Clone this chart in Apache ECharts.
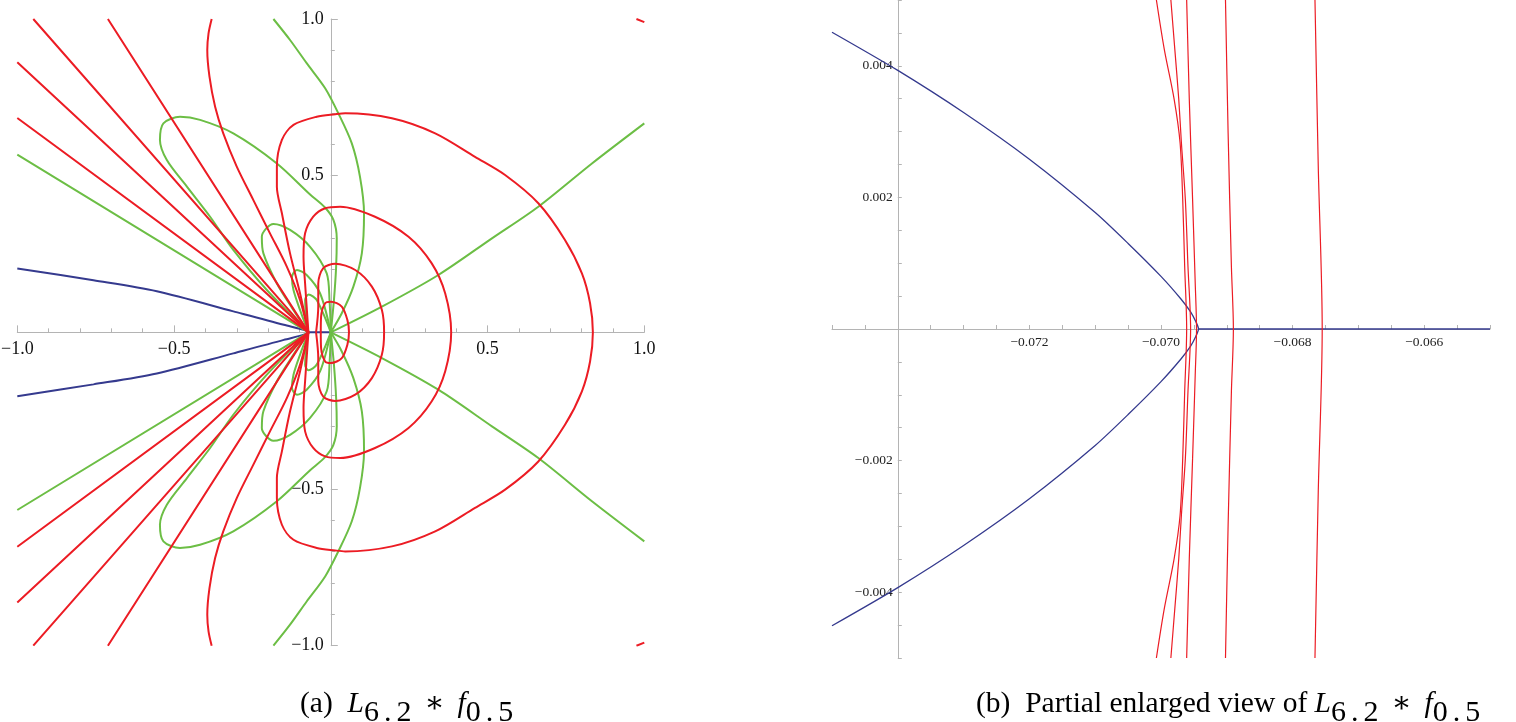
<!DOCTYPE html>
<html>
<head>
<meta charset="utf-8">
<script src="https://cdn.jsdelivr.net/npm/echarts@6/dist/echarts.min.js"></script>
<style>
html, body { margin: 0; padding: 0; background: #fff; }
#chart { width: 1516px; height: 722px; }
</style>
</head>
<body>
<div id="chart"></div>
<script>
// ---- (a) full view ----
const blueLeft = [[-1.0, 0.204], [-0.757, 0.166], [-0.555, 0.131], [-0.311, 0.067], [-0.15, 0.024], [-0.0714, 0],
  [-0.15, -0.024], [-0.311, -0.067], [-0.555, -0.131], [-0.757, -0.166], [-1.0, -0.204]];
const blueAxis = [[-0.0714, 0], [0, 0]];

const redRay1 = [[-1.0, 0.684], [-0.0714, 0], [-1.0, -0.684]];
const redRay2 = [[-1.0, 0.862], [-0.0714, 0], [-1.0, -0.862]];
const redRay3 = [[-0.949, 1.0], [-0.0714, 0], [-0.949, -1.0]];
const redRay4 = [[-0.711, 1.0], [-0.0714, 0], [-0.711, -1.0]];
const redBendUp = [[-0.380, 1.0], [-0.390, 0.954], [-0.394, 0.901], [-0.387, 0.816], [-0.369, 0.720], [-0.343, 0.635],
  [-0.300, 0.529], [-0.247, 0.422], [-0.194, 0.316], [-0.140, 0.209], [-0.098, 0.103], [-0.0714, 0]];
const redBendDown = [[-0.380, -1.0], [-0.390, -0.954], [-0.394, -0.901], [-0.387, -0.816], [-0.369, -0.720], [-0.343, -0.635],
  [-0.300, -0.529], [-0.247, -0.422], [-0.194, -0.316], [-0.140, -0.209], [-0.098, -0.103], [-0.0714, 0]];

const redLoop1 = [[-0.0714, 0], [-0.098, 0.124], [-0.130, 0.252], [-0.156, 0.380], [-0.172, 0.465], [-0.172, 0.529],
  [-0.156, 0.614], [-0.119, 0.662], [-0.045, 0.688], [0.014, 0.696], [0.046, 0.699], [0.195, 0.683], [0.333, 0.635],
  [0.460, 0.560], [0.556, 0.502], [0.662, 0.412], [0.747, 0.295], [0.801, 0.188], [0.827, 0.093], [0.836, 0],
  [0.827, -0.093], [0.801, -0.188], [0.747, -0.295], [0.662, -0.412], [0.556, -0.502], [0.460, -0.560], [0.333, -0.635],
  [0.195, -0.683], [0.046, -0.699], [0.014, -0.696], [-0.045, -0.688], [-0.119, -0.662], [-0.156, -0.614],
  [-0.172, -0.529], [-0.172, -0.465], [-0.156, -0.380], [-0.130, -0.252], [-0.098, -0.124], [-0.0714, 0]];
const redLoop2 = [[-0.0714, 0], [-0.082, 0.156], [-0.087, 0.241], [-0.082, 0.316], [-0.056, 0.369], [-0.018, 0.396],
  [0.030, 0.401], [0.141, 0.369], [0.248, 0.305], [0.322, 0.220], [0.365, 0.124], [0.384, 0],
  [0.365, -0.124], [0.322, -0.220], [0.248, -0.305], [0.141, -0.369], [0.030, -0.401], [-0.018, -0.396],
  [-0.056, -0.369], [-0.082, -0.316], [-0.087, -0.241], [-0.082, -0.156], [-0.0714, 0]];
const redLoop3 = [[-0.047, 0], [-0.040, 0.082], [-0.040, 0.156], [-0.024, 0.205], [0.014, 0.219], [0.078, 0.199],
  [0.131, 0.146], [0.163, 0.071], [0.170, 0], [0.163, -0.071], [0.131, -0.146], [0.078, -0.199], [0.014, -0.219],
  [-0.024, -0.205], [-0.040, -0.156], [-0.040, -0.082], [-0.047, 0]];
const redLoop4 = [[-0.032, 0], [-0.031, 0.050], [-0.018, 0.093], [0, 0.098], [0.035, 0.082], [0.053, 0.039], [0.058, 0],
  [0.053, -0.039], [0.035, -0.082], [0, -0.098], [-0.018, -0.093], [-0.031, -0.050], [-0.032, 0]];
const redCornerTop = [[0.975, 1.0], [1.0, 0.99]];
const redCornerBottom = [[0.975, -1.0], [1.0, -0.99]];

const greenRightUp = [[0, 0], [0.163, 0.082], [0.343, 0.183], [0.514, 0.300], [0.662, 0.401], [0.833, 0.539], [1.0, 0.667]];
const greenRightDown = [[0, 0], [0.163, -0.082], [0.343, -0.183], [0.514, -0.300], [0.662, -0.401], [0.833, -0.539], [1.0, -0.667]];
const greenLeftRay = [[-1.0, 0.567], [-0.0714, 0], [-1.0, -0.567]];
const greenTallUp = [[0, 0], [0.035, 0.061], [0.072, 0.146], [0.099, 0.252], [0.106, 0.380], [0.093, 0.497], [0.067, 0.603],
  [0.024, 0.699], [-0.018, 0.779], [-0.077, 0.859], [-0.130, 0.933], [-0.183, 1.0]];
const greenTallDown = [[0, 0], [0.035, -0.061], [0.072, -0.146], [0.099, -0.252], [0.106, -0.380], [0.093, -0.497], [0.067, -0.603],
  [0.024, -0.699], [-0.018, -0.779], [-0.077, -0.859], [-0.130, -0.933], [-0.183, -1.0]];
const greenLoopCUp = [[0, 0], [0.010, 0.103], [0.017, 0.209], [0.019, 0.300], [0.008, 0.360], [-0.020, 0.400], [-0.066, 0.440],
  [-0.172, 0.539], [-0.311, 0.635], [-0.417, 0.678], [-0.481, 0.688], [-0.534, 0.667], [-0.545, 0.614], [-0.523, 0.550],
  [-0.459, 0.465], [-0.385, 0.369], [-0.311, 0.263], [-0.204, 0.135], [-0.0714, 0]];
const greenLoopCDown = [[0, 0], [0.010, -0.103], [0.017, -0.209], [0.019, -0.300], [0.008, -0.360], [-0.020, -0.400], [-0.066, -0.440],
  [-0.172, -0.539], [-0.311, -0.635], [-0.417, -0.678], [-0.481, -0.688], [-0.534, -0.667], [-0.545, -0.614], [-0.523, -0.550],
  [-0.459, -0.465], [-0.385, -0.369], [-0.311, -0.263], [-0.204, -0.135], [-0.0714, 0]];
const greenLoopDUp = [[0, 0], [-0.004, 0.100], [-0.013, 0.188], [-0.066, 0.273], [-0.130, 0.327], [-0.183, 0.346],
  [-0.220, 0.305], [-0.215, 0.252], [-0.172, 0.156], [-0.119, 0.071], [-0.0714, 0]];
const greenLoopDDown = [[0, 0], [-0.004, -0.100], [-0.013, -0.188], [-0.066, -0.273], [-0.130, -0.327], [-0.183, -0.346],
  [-0.220, -0.305], [-0.215, -0.252], [-0.172, -0.156], [-0.119, -0.071], [-0.0714, 0]];
const greenLoopEUp = [[0, 0], [-0.034, 0.124], [-0.077, 0.183], [-0.108, 0.199], [-0.124, 0.177], [-0.119, 0.135], [-0.098, 0.071], [-0.0714, 0]];
const greenLoopEDown = [[0, 0], [-0.034, -0.124], [-0.077, -0.183], [-0.108, -0.199], [-0.124, -0.177], [-0.119, -0.135], [-0.098, -0.071], [-0.0714, 0]];
const greenLoopFUp = [[0, 0], [-0.045, 0.103], [-0.071, 0.121], [-0.082, 0.103], [-0.079, 0.055], [-0.0714, 0]];
const greenLoopFDown = [[0, 0], [-0.045, -0.103], [-0.071, -0.121], [-0.082, -0.103], [-0.079, -0.055], [-0.0714, 0]];

// ---- (b) enlarged view near the tip ----
const blueZoom = [[-0.075, 0.00451], [-0.074, 0.00393], [-0.073, 0.00329], [-0.072, 0.00258], [-0.071, 0.00177],
  [-0.0705, 0.0013], [-0.070, 0.0008], [-0.0697, 0.00046], [-0.06955, 0.00026], [-0.06947, 0.00011], [-0.06943, 0],
  [-0.06947, -0.00011], [-0.06955, -0.00026], [-0.0697, -0.00046], [-0.070, -0.0008], [-0.0705, -0.0013],
  [-0.071, -0.00177], [-0.072, -0.00258], [-0.073, -0.00329], [-0.074, -0.00393], [-0.075, -0.00451]];
const blueZoomAxis = [[-0.06943, 0], [-0.065, 0]];
const redZoomA = [[-0.07007, 0.005], [-0.06995, 0.00425], [-0.0698, 0.00349], [-0.06971, 0.00283], [-0.06967, 0.00197],
  [-0.06964, 0.00095], [-0.06961, 0], [-0.06964, -0.00095], [-0.06967, -0.00197], [-0.06971, -0.00283],
  [-0.0698, -0.00349], [-0.06995, -0.00425], [-0.07007, -0.005]];
const redZoomB = [[-0.06985, 0.005], [-0.06979, 0.00425], [-0.06973, 0.00349], [-0.06969, 0.00283], [-0.06963, 0.00197],
  [-0.06959, 0.00095], [-0.06955, 0], [-0.06959, -0.00095], [-0.06963, -0.00197], [-0.06969, -0.00283],
  [-0.06973, -0.00349], [-0.06979, -0.00425], [-0.06985, -0.005]];
const redZoomC = [[-0.06961, 0.005], [-0.06957, 0.00349], [-0.06952, 0.00197], [-0.06948, 0.0007], [-0.06946, 0],
  [-0.06948, -0.0007], [-0.06952, -0.00197], [-0.06957, -0.00349], [-0.06961, -0.005]];
const redZoomD = [[-0.06902, 0.005], [-0.06898, 0.00298], [-0.06893, 0.00095], [-0.0689, 0],
  [-0.06893, -0.00095], [-0.06898, -0.00298], [-0.06902, -0.005]];
const redZoomE = [[-0.06766, 0.005], [-0.06761, 0.00247], [-0.06755, 0], [-0.06761, -0.00247], [-0.06766, -0.005]];

const RED = '#ec1c24';
const GREEN = '#6cbe45';
const BLUE = '#353a8e';
const AXIS = '#b4b4b4';
const SERIF = '"Liberation Serif", "DejaVu Serif", serif';

// grid boxes; axes are pushed in to where they cross (origin / x = -0.074)
const gridA = { left: 17.3, top: 19, width: 627, height: 626.7 };
const gridB = { left: 832, top: 0, width: 658, height: 658 };

function curve(data, color, width, grid, smooth) {
  return {
    type: 'line', data: data, xAxisIndex: grid, yAxisIndex: grid,
    symbol: 'none', showSymbol: false, smooth: smooth, silent: true,
    lineStyle: { color: color, width: width }
  };
}

function signed(v, digits) {
  return (v < 0 ? '\u2212' : '') + Math.abs(v).toFixed(digits);
}

// left plot: major every 0.5, minor every 0.1, no label at 0
function leftAxis(isX) {
  return {
    type: 'value', gridIndex: 0, min: -1, max: 1, interval: 0.5,
    offset: isX ? -gridA.height / 2 : -gridA.width / 2,
    axisLine: { onZero: false, lineStyle: { color: AXIS, width: 1 } },
    axisTick: { show: true, inside: true, length: 7, lineStyle: { color: AXIS } },
    minorTick: { show: true, splitNumber: 5, length: 4, lineStyle: { color: AXIS } },
    splitLine: { show: false },
    axisLabel: {
      margin: isX ? 8 : 7, fontSize: 18, fontFamily: SERIF, color: '#111',
      showMinLabel: true, showMaxLabel: true,
      formatter: v => Math.abs(v) < 1e-9 ? '' : signed(v, 1)
    }
  };
}

// right plot: ticks every 0.0005, labels every 0.002
function rightLabel(v, skip) {
  const k = Math.round(v / 0.0005);
  if (k % 4 !== 0 || k === skip) return '';
  return signed(v, 3);
}

const chart = echarts.init(document.getElementById('chart'));

const richCap = {
  n: { fontSize: 29.5, fontFamily: SERIF, fill: '#000', verticalAlign: 'top' },
  i: { fontSize: 29.5, fontFamily: SERIF, fontStyle: 'italic', fill: '#000', verticalAlign: 'top' },
  op: { fontSize: 29.5, fontFamily: SERIF, fill: '#000', verticalAlign: 'top', padding: [0, 13, 0, 13] },
  s: { fontSize: 30, fontFamily: SERIF, fill: '#000', verticalAlign: 'top', padding: [9, 0, 0, 0] },
  dot: { fontSize: 30, fontFamily: SERIF, fill: '#000', verticalAlign: 'top', padding: [9, 5, 0, 5] }
};

chart.setOption({
  animation: false,
  grid: [
    Object.assign({ containLabel: false, outerBoundsMode: 'none' }, gridA),
    Object.assign({ containLabel: false, outerBoundsMode: 'none' }, gridB)
  ],
  xAxis: [
    leftAxis(true),
    {
      type: 'value', gridIndex: 1, min: -0.075, max: -0.065, interval: 0.0005,
      offset: -gridB.height / 2,
      axisLine: { onZero: false, lineStyle: { color: AXIS, width: 1 } },
      axisTick: { show: true, inside: true, length: 4, interval: 0, lineStyle: { color: AXIS } },
      splitLine: { show: false },
      axisLabel: { margin: 6, fontSize: 13.5, fontFamily: SERIF, color: '#222', interval: 0,
        showMinLabel: true, showMaxLabel: true, formatter: v => rightLabel(v, -148) }
    }
  ],
  yAxis: [
    leftAxis(false),
    {
      type: 'value', gridIndex: 1, min: -0.005, max: 0.005, interval: 0.0005,
      offset: -gridB.width * 0.1,
      axisLine: { onZero: false, lineStyle: { color: AXIS, width: 1 } },
      axisTick: { show: true, inside: true, length: 4, interval: 0, lineStyle: { color: AXIS } },
      splitLine: { show: false },
      axisLabel: { margin: 5, fontSize: 13.5, fontFamily: SERIF, color: '#222', interval: 0,
        formatter: v => rightLabel(v, 0) }
    }
  ],
  series: [
    curve(blueLeft, BLUE, 2, 0, 0.3),
    curve(blueAxis, BLUE, 2, 0, false),
    curve(greenRightUp, GREEN, 2, 0, 0.3),
    curve(greenRightDown, GREEN, 2, 0, 0.3),
    curve(greenLeftRay, GREEN, 2, 0, false),
    curve(greenTallUp, GREEN, 2, 0, 0.3),
    curve(greenTallDown, GREEN, 2, 0, 0.3),
    curve(greenLoopCUp, GREEN, 2, 0, 0.3),
    curve(greenLoopCDown, GREEN, 2, 0, 0.3),
    curve(greenLoopDUp, GREEN, 2, 0, 0.3),
    curve(greenLoopDDown, GREEN, 2, 0, 0.3),
    curve(greenLoopEUp, GREEN, 2, 0, 0.3),
    curve(greenLoopEDown, GREEN, 2, 0, 0.3),
    curve(greenLoopFUp, GREEN, 2, 0, 0.3),
    curve(greenLoopFDown, GREEN, 2, 0, 0.3),
    curve(redRay1, RED, 2, 0, false),
    curve(redRay2, RED, 2, 0, false),
    curve(redRay3, RED, 2, 0, false),
    curve(redRay4, RED, 2, 0, false),
    curve(redBendUp, RED, 2, 0, 0.3),
    curve(redBendDown, RED, 2, 0, 0.3),
    curve(redLoop1, RED, 2, 0, 0.3),
    curve(redLoop2, RED, 2, 0, 0.3),
    curve(redLoop3, RED, 2, 0, 0.3),
    curve(redLoop4, RED, 2, 0, 0.3),
    curve(redCornerTop, RED, 2, 0, false),
    curve(redCornerBottom, RED, 2, 0, false),

    curve(blueZoom, BLUE, 1.3, 1, 0.25),
    curve(blueZoomAxis, BLUE, 1.6, 1, false),
    curve(redZoomA, RED, 1.2, 1, 0.3),
    curve(redZoomB, RED, 1.2, 1, 0.3),
    curve(redZoomC, RED, 1.2, 1, 0.3),
    curve(redZoomD, RED, 1.2, 1, 0.3),
    curve(redZoomE, RED, 1.2, 1, 0.3)
  ],
  graphic: [
    { type: 'text', left: 300, top: 689, silent: true,
      style: { text: '{n|(a)  }{i|L}{s|6}{dot|.}{s|2}{op|\u2217}{i|f}{s|0}{dot|.}{s|5}', rich: richCap } },
    { type: 'text', left: 976, top: 689, silent: true,
      style: { text: '{n|(b)  Partial enlarged view of }{i|L}{s|6}{dot|.}{s|2}{op|\u2217}{i|f}{s|0}{dot|.}{s|5}', rich: richCap } }
  ]
});
</script>
</body>
</html>
